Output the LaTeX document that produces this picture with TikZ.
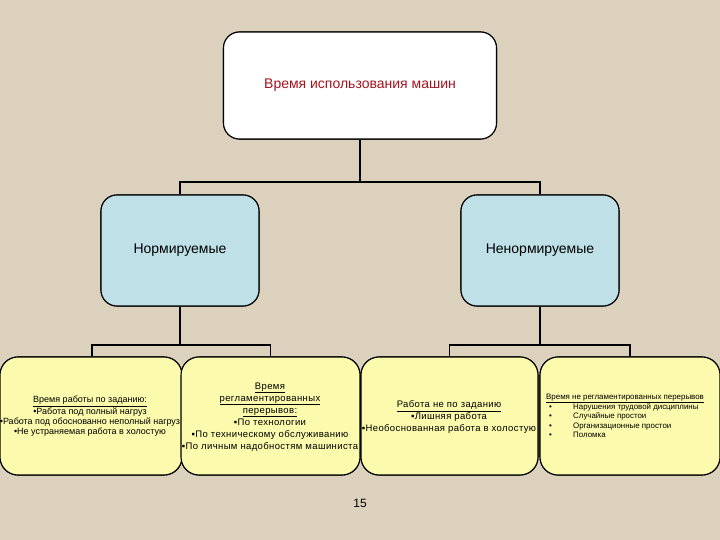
\documentclass[tikz,border=0pt]{standalone}
\usepackage{fontspec}
\setmainfont{Liberation Sans}
\definecolor{bgbeige}{RGB}{219,209,189}
\definecolor{topred}{RGB}{165,20,30}
\definecolor{midblue}{RGB}{190,224,230}
\definecolor{lowyellow}{RGB}{252,250,172}
\tikzset{
  box/.style={draw=black, line width=1.1pt, rounded corners=16pt, inner sep=0pt},
  topbox/.style={box, fill=white, minimum width=273pt, minimum height=107pt},
  midbox/.style={box, fill=midblue, minimum width=158pt, minimum height=111pt},
  lowbox/.style={box, fill=lowyellow, rounded corners=18pt, minimum height=118pt},
  conn/.style={draw=black, line width=1.6pt},
  txt/.style={inner sep=0pt, align=center}
}
\begin{document}
\begin{tikzpicture}[x=1pt, y=-1pt]
\fill[bgbeige] (0,0) rectangle (720,540);
\useasboundingbox (0,0) rectangle (720,540);
\begin{scope}
\clip (0,0) rectangle (720,540);
% connectors
\coordinate (j1) at (360,182);
\coordinate (j2) at (180,345);
\coordinate (j3) at (540,345);
\node[topbox] (top) at (360,85.5) {};
\node[midbox] (n1) at (180,250.5) {};
\node[midbox] (n2) at (540,250.5) {};
\node[lowbox, minimum width=182pt] (b1) at (91,416) {};
\node[lowbox, minimum width=179pt] (b2) at (270.5,416) {};
\node[lowbox, minimum width=177pt] (b3) at (449.5,416) {};
\node[lowbox, minimum width=180pt] (b4) at (630,416) {};
\draw[conn] (top.south) -- (j1) -| (n1.north);
\draw[conn] (j1) -| (n2.north);
\draw[conn] (n1.south) -- (j2) -| ([xshift=1pt]b1.north);
\draw[conn] (j2) -| (b2.north);
\draw[conn] (n2.south) -- (j3) -| (b3.north);
\draw[conn] (j3) -| (b4.north);
% redraw boxes over connector ends
\node[topbox] at (top) {};
\node[midbox] at (n1) {};
\node[midbox] at (n2) {};
\node[lowbox, minimum width=182pt] at (b1) {};
\node[lowbox, minimum width=179pt] at (b2) {};
\node[lowbox, minimum width=177pt] at (b3) {};
\node[lowbox, minimum width=180pt] at (b4) {};
% texts
\node[txt, text=topred, font=\fontsize{14}{16}\selectfont] (ttop) at (top) {Время использования машин};
\node[txt, font=\fontsize{14}{16}\selectfont] (tn1) at (n1) {Нормируемые};
\node[txt, font=\fontsize{14}{16}\selectfont] (tn2) at (n2) {Ненормируемые};
\node[txt, font=\fontsize{9}{10.3}\selectfont] (tb1) at (90,416.5) {\underline{Время работы по заданию:}\\•Работа под полный нагруз\\•Работа под обоснованно неполный нагруз\\•Не устраняемая работа в холостую};
\node[txt, font=\fontsize{9.5}{12}\selectfont\addfontfeature{LetterSpace=4}] (tb2) at (270,417) {\underline{Время}\\\underline{регламентированных}\\\underline{перерывов:}\\▪По технологии\\▪По техническому обслуживанию\\▪По личным надобностям машиниста};
\node[txt, font=\fontsize{9.5}{12}\selectfont\addfontfeature{LetterSpace=4}] (tb3) at (449,417) {\underline{Работа не по заданию}\\▪Лишняя работа\\▪Необоснованная работа в холостую};
\node[inner sep=0pt, anchor=north west, font=\fontsize{7.9}{9.3}\selectfont, align=left] (tb4) at (546,393.5) {\underline{Время не регламентированных перерывов}\\
\makebox[27pt][l]{\hspace{3pt}•}Нарушения трудовой дисциплины\\
\makebox[27pt][l]{\hspace{3pt}•}Случайные простои\\
\makebox[27pt][l]{\hspace{3pt}•}Организационные простои\\
\makebox[27pt][l]{\hspace{3pt}•}Поломка};
\node[txt, font=\fontsize{12}{14}\selectfont] (pg) at (360,503) {15};
\end{scope}
\end{tikzpicture}
\end{document}
